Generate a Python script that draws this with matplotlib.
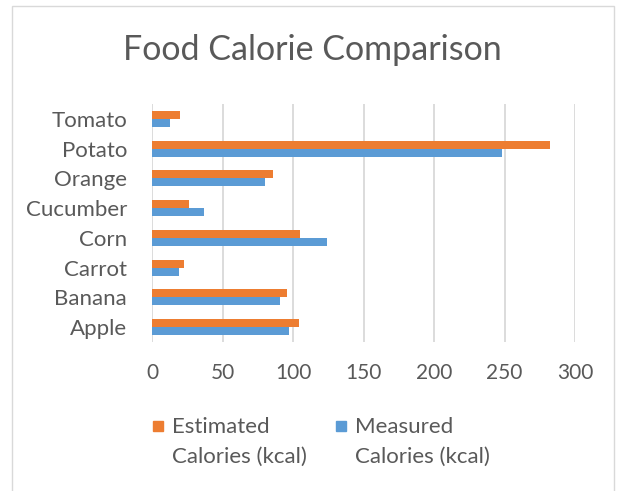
import matplotlib
matplotlib.use("Agg")
import matplotlib.pyplot as plt
from matplotlib.patches import Rectangle
import numpy as np

# ── DATA ──────────────────────────────────────────────────────────────────────
foods     = ["Apple", "Banana", "Carrot", "Corn", "Cucumber", "Orange", "Potato", "Tomato"]
estimated = [104, 96, 23, 105, 26, 86, 282, 20]
measured  = [97, 91, 19, 124, 37, 80, 248, 13]
xticks    = [0, 50, 100, 150, 200, 250, 300]
series    = ["Estimated\nCalories (kcal)", "Measured\nCalories (kcal)"]
# ─────────────────────────────────────────────────────────────────────────────

ORANGE = "#ED7D31"
BLUE   = "#5B9BD5"
TEXT   = "#595959"
GRID   = "#D9D9D9"

plt.rcParams["font.family"] = ["Lato", "DejaVu Sans"]

fig = plt.figure(figsize=(6.25, 4.91), dpi=100)
fig.patch.set_facecolor("white")

# chart frame
fig.add_artist(Rectangle((12 / 625, -0.01), 602 / 625, 1 - 6 / 491 + 0.01,
                         transform=fig.transFigure, fill=False,
                         edgecolor=GRID, linewidth=1))

ax = fig.add_axes([152 / 625, 149 / 491, 423 / 625, 238 / 491])

y = np.arange(len(foods))
h = 0.27
ax.barh(y + h / 2, estimated, height=h, color=ORANGE, zorder=3)
ax.barh(y - h / 2, measured, height=h, color=BLUE, zorder=3)

ax.set_xlim(0, 300)
ax.set_ylim(-0.5, len(foods) - 0.5)
ax.set_xticks(xticks)
ax.set_xticklabels([str(t) for t in xticks])
ax.set_yticks(y)
ax.set_yticklabels(foods)
ax.tick_params(axis="both", length=0, colors=TEXT)
ax.tick_params(axis="x", pad=15, labelsize=15)
ax.tick_params(axis="y", pad=18, labelsize=16)
ax.xaxis.grid(True, color=GRID, linewidth=1.3, zorder=0)
for s in ax.spines.values():
    s.set_visible(False)

fig.text(0.5, 1 - 50 / 491, "Food Calorie Comparison", ha="center", va="center",
         fontsize=24.5, color=TEXT)

# legend
for i, (lab, col) in enumerate(zip(series, [ORANGE, BLUE])):
    x0 = (153 + i * 183) / 625
    fig.add_artist(Rectangle((x0, 1 - 431 / 491), 10 / 625, 10 / 491,
                             transform=fig.transFigure, color=col))
    fig.text(x0 + 19 / 625, 1 - 417 / 491, lab, ha="left", va="top",
             fontsize=16, color=TEXT, linespacing=1.6)

fig.savefig("out.png", dpi=100)
